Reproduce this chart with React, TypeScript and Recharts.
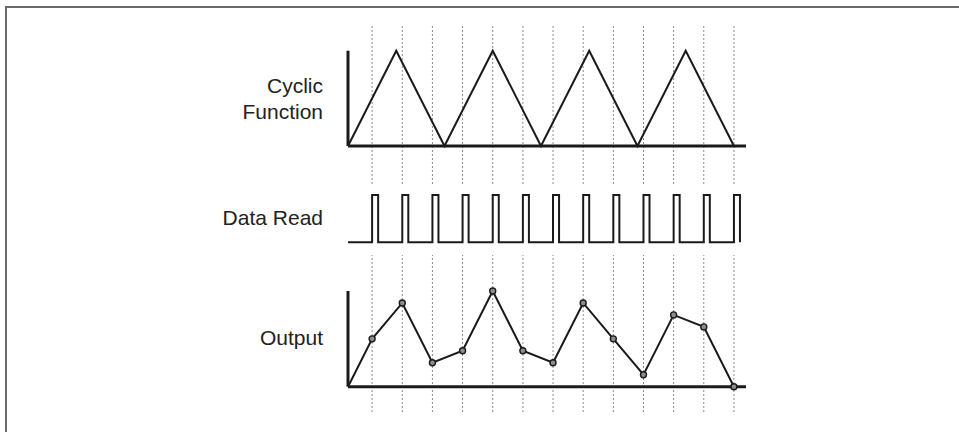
import React from "react";
import { LineChart, Line, XAxis, YAxis, ReferenceLine } from "recharts";

// ---- data ----
const sampleTimes = [0.8, 1.8, 2.8, 3.8, 4.8, 5.8, 6.8, 7.8, 8.8, 9.8, 10.8, 11.8, 12.8];

const cyclicTimes = [0, 1.6, 3.2, 4.8, 6.4, 8.0, 9.6, 11.2, 12.8];
const cyclicValues = [0, 1, 0, 1, 0, 1, 0, 1, 0];

const readTimes = [0, 0.8, 1.0, 1.8, 2.0, 2.8, 3.0, 3.8, 4.0, 4.8, 5.0, 5.8, 6.0, 6.8, 7.0, 7.8, 8.0, 8.8, 9.0, 9.8, 10.0, 10.8, 11.0, 11.8, 12.0, 12.8, 13.0];
const readLevels = [0, 1, 0, 1, 0, 1, 0, 1, 0, 1, 0, 1, 0, 1, 0, 1, 0, 1, 0, 1, 0, 1, 0, 1, 0, 1, 0];

const outputTimes = [0, 0.8, 1.8, 2.8, 3.8, 4.8, 5.8, 6.8, 7.8, 8.8, 9.8, 10.8, 11.8, 12.8];
const outputValues = [0, 0.5, 0.875, 0.25, 0.375, 1.0, 0.375, 0.25, 0.875, 0.5, 0.125, 0.75, 0.625, 0];

const rowLabels = ["Cyclic", "Function", "Data Read", "Output"];

const X_DOMAIN: [number, number] = [0, 13.2];

const cyclicData = cyclicTimes.map((t, i) => ({ t, v: cyclicValues[i] }));
const readData = readTimes.map((t, i) => ({ t, v: readLevels[i] }));
const outputData = outputTimes.map((t, i) => ({ t, v: outputValues[i] }));
const gridData = sampleTimes.map((t) => ({ t, v: 0 }));

const W = 959;
const INK = "#1a1a1a";
const LEFT = 348;
const RIGHT = 213;
const FONT = "'Liberation Sans', Arial, sans-serif";

const abs: React.CSSProperties = { position: "absolute", left: 0, top: 0 };

const renderDot = (props: any) => {
  const { cx, cy, index } = props;
  if (index === 0) return <g key={`d${index}`} />;
  return (
    <circle
      key={`d${index}`}
      cx={cx}
      cy={cy}
      r={3}
      fill="#8c8c8c"
      stroke={INK}
      strokeWidth={1.4}
    />
  );
};

function GridChart({ top, bottom }: { top: number; bottom: number }) {
  return (
    <div style={abs}>
      <LineChart
        width={W}
        height={bottom + 5}
        data={gridData}
        margin={{ top, bottom: 5, left: LEFT, right: RIGHT }}
      >
        <XAxis type="number" dataKey="t" domain={X_DOMAIN} allowDataOverflow hide />
        <YAxis domain={[0, 1]} hide />
        {sampleTimes.map((t) => (
          <ReferenceLine
            key={t}
            x={t}
            stroke="#8a8a8a"
            strokeWidth={1}
            strokeDasharray="2 2"
          />
        ))}
        <Line dataKey="v" stroke="none" dot={false} isAnimationActive={false} />
      </LineChart>
    </div>
  );
}

function SignalChart({
  data,
  top,
  bottom,
  axes,
  type,
  dot,
}: {
  data: { t: number; v: number }[];
  top: number;
  bottom: number;
  axes: boolean;
  type: "linear" | "stepAfter";
  dot: any;
}) {
  return (
    <div style={abs}>
      <LineChart
        width={W}
        height={bottom + 10}
        data={data}
        margin={{ top, bottom: axes ? 9 : 10, left: axes ? LEFT - 1 : LEFT, right: RIGHT }}
      >
        <XAxis
          type="number"
          dataKey="t"
          domain={X_DOMAIN}
          allowDataOverflow
          height={1}
          tick={false}
          tickLine={false}
          axisLine={axes ? { stroke: INK, strokeWidth: 3 } : false}
          hide={!axes}
        />
        <YAxis
          domain={[0, 1]}
          width={1}
          tick={false}
          tickLine={false}
          axisLine={axes ? { stroke: INK, strokeWidth: 3 } : false}
          hide={!axes}
        />
        <Line
          type={type}
          dataKey="v"
          stroke={INK}
          strokeWidth={2}
          dot={dot}
          isAnimationActive={false}
        />
      </LineChart>
    </div>
  );
}

export default function App() {
  return (
    <div style={{ position: "absolute", left: 0, top: 0, width: W, height: 432, background: "#fff", overflow: "hidden" }}>
      <div
        style={{
          position: "absolute",
          left: 5,
          top: 6,
          width: W,
          height: 432,
          borderTop: "2px solid #6a6a6a",
          borderLeft: "2px solid #6a6a6a",
        }}
      />
      <GridChart top={26} bottom={184} />
      <GridChart top={255} bottom={412} />
      <SignalChart data={cyclicData} top={50.7} bottom={146} axes type="linear" dot={false} />
      <SignalChart data={readData} top={195} bottom={242.3} axes={false} type="stepAfter" dot={false} />
      <SignalChart data={outputData} top={291} bottom={386.7} axes type="linear" dot={renderDot} />
      <svg width={W} height={432} style={abs}>
        <g fontFamily={FONT} fontSize={21} fill="#222" textAnchor="end">
          <text x={323} y={93.3}>{rowLabels[0]}</text>
          <text x={323} y={118.6}>{rowLabels[1]}</text>
          <text x={323} y={225}>{rowLabels[2]}</text>
          <text x={323} y={345}>{rowLabels[3]}</text>
        </g>
      </svg>
    </div>
  );
}
